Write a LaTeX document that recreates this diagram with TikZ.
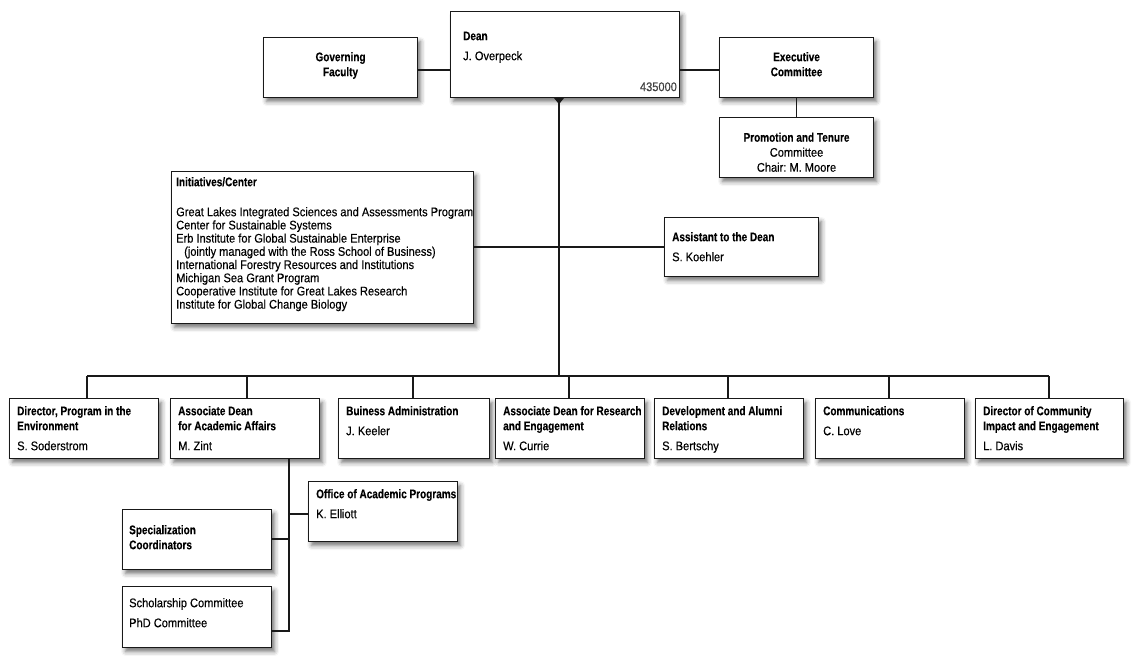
\documentclass[tikz,border=0pt]{standalone}
\usepackage{fontspec}
\setmainfont{Liberation Sans}[FakeStretch=0.885,FakeBold=0.25,BoldFeatures={FakeStretch=0.80,FakeBold=0.2}]
\usetikzlibrary{shadows.blur,calc}
\frenchspacing
\newcommand\T{\rule{0pt}{10pt}}
\newcommand\tb[1]{\textbf{#1}}
\newcommand\obox[5]{\node[box,minimum width={#4-#2},minimum height={#5-#3}] (#1) at (#2,#3) {};}
\begin{document}
\begin{tikzpicture}[x=1pt,y=-1pt,
  box/.style={draw=black!90,line width=1.1pt,fill=white,anchor=north west,inner sep=0pt,
    blur shadow={shadow xshift=3pt,shadow yshift=-4pt,shadow blur radius=4.5pt,shadow opacity=55}},
  txt/.style={align=left,inner sep=0pt,anchor=north west,font=\fontsize{12.5}{15}\selectfont},
  ctxt/.style={txt,align=center,anchor=north},
  link/.style={line width=1.4pt,black!90}]
\useasboundingbox (0,0) rectangle (1136,656);
% boxes
\obox{gov}{263}{37}{417}{97}
\obox{dean}{450}{11}{679}{97}
\obox{exec}{719}{37}{873}{97}
\obox{ptc}{719}{117}{873}{177}
\obox{init}{171}{171}{473}{323}
\obox{asst}{664}{217}{818}{276}
\obox{b1}{9}{398}{158}{458}
\obox{b2}{170}{398}{319}{458}
\obox{b3}{338}{398}{489}{458}
\obox{b4}{495}{398}{644}{458}
\obox{b5}{654}{398}{803}{458}
\obox{b6}{815}{398}{964}{458}
\obox{b7}{975}{398}{1123}{458}
\obox{office}{308}{481}{457}{541}
\obox{spec}{122}{509}{271}{569}
\obox{schol}{122}{586}{271}{647}
% texts
\node[txt] (deant) at ([xshift=13pt,yshift=-19pt]dean.north west) {\T\tb{Dean}\\[5pt]J. Overpeck};
\node[txt,anchor=base east,text=black!75] (deannum) at ([xshift=-3pt,yshift=7pt]dean.south east) {435000};
\node[ctxt] (govt) at ([yshift=-14pt]gov.north) {\T\tb{Governing}\\\tb{Faculty}};
\node[ctxt] (exect) at ([yshift=-14pt]exec.north) {\T\tb{Executive}\\\tb{Committee}};
\node[ctxt] (ptct) at ([yshift=-14.5pt]ptc.north) {\T\tb{Promotion and Tenure}\\Committee\\Chair: M. Moore};
\node[txt,font=\fontsize{12.5}{13.2}\selectfont] (initt) at ([xshift=5pt,yshift=-5pt]init.north west)
  {\T\tb{Initiatives/Center}\\[16.8pt]
   Great Lakes Integrated Sciences and Assessments Program\\
   Center for Sustainable Systems\\
   Erb Institute for Global Sustainable Enterprise\\
   \hspace{8pt}(jointly managed with the Ross School of Business)\\
   International Forestry Resources and Institutions\\
   Michigan Sea Grant Program\\
   Cooperative Institute for Great Lakes Research\\
   Institute for Global Change Biology};
\node[txt] (asstt) at ([xshift=8pt,yshift=-14pt]asst.north west) {\T\tb{Assistant to the Dean}\\[5pt]S. Koehler};
\node[txt] (b1t) at ([xshift=8pt,yshift=-7pt]b1.north west) {\T\tb{Director, Program in the}\\\tb{Environment}\\[5pt]S. Soderstrom};
\node[txt] (b2t) at ([xshift=8pt,yshift=-7pt]b2.north west) {\T\tb{Associate Dean}\\\tb{for Academic Affairs}\\[5pt]M. Zint};
\node[txt] (b3t) at ([xshift=8pt,yshift=-7pt]b3.north west) {\T\tb{Buiness Administration}\\[5pt]J. Keeler};
\node[txt] (b4t) at ([xshift=8pt,yshift=-7pt]b4.north west) {\T\tb{Associate Dean for Research}\\\tb{and Engagement}\\[5pt]W. Currie};
\node[txt] (b5t) at ([xshift=8pt,yshift=-7pt]b5.north west) {\T\tb{Development and Alumni}\\\tb{Relations}\\[5pt]S. Bertschy};
\node[txt] (b6t) at ([xshift=8pt,yshift=-7pt]b6.north west) {\T\tb{Communications}\\[5pt]C. Love};
\node[txt] (b7t) at ([xshift=8pt,yshift=-7pt]b7.north west) {\T\tb{Director of Community}\\\tb{Impact and Engagement}\\[5pt]L. Davis};
\node[txt] (officet) at ([xshift=8pt,yshift=-7pt]office.north west) {\T\tb{Office of Academic Programs}\\[5pt]K. Elliott};
\node[txt] (spect) at ([xshift=7pt,yshift=-15pt]spec.north west) {\T\tb{Specialization}\\\tb{Coordinators}};
\node[txt] (scholt) at ([xshift=7pt,yshift=-11pt]schol.north west) {\T Scholarship Committee\\[5pt]PhD Committee};
% coordinates
\coordinate (trunkx) at (559,0);
\coordinate (bus) at (559,376);
\coordinate (y70) at (0,70);
\coordinate (y247) at (0,247);
\coordinate (d1) at (87,376);
\coordinate (d2) at (247,376);
\coordinate (d3) at (413,376);
\coordinate (d4) at (569,376);
\coordinate (d5) at (728,376);
\coordinate (d6) at (889,376);
\coordinate (d7) at (1049,376);
\coordinate (z1) at (289,514);
\coordinate (z2) at (289,539);
\coordinate (z3) at (289,631);
% connectors
\draw[link] (gov.east |- y70) -- (dean.west |- y70);
\draw[link] (dean.east |- y70) -- (exec.west |- y70);
\draw[link] (exec.south) -- (ptc.north);
\draw[link] (dean.south -| trunkx) -- (bus);
\fill[black!90] ([xshift=-5pt]dean.south -| trunkx) -- ([xshift=5pt]dean.south -| trunkx) -- ([yshift=-6pt]dean.south -| trunkx) -- cycle;
\draw[link] (init.east |- y247) -- (asst.west |- y247);
\draw[link] (d1) -- (d7);
\foreach \d/\b in {d1/b1,d2/b2,d3/b3,d4/b4,d5/b5,d6/b6,d7/b7}
  \draw[link] (\d) -- (\d |- \b.north);
\draw[link] (b2.south -| z3) -- (z3) -- (schol.east |- z3);
\draw[link] (z1) -- (office.west |- z1);
\draw[link] (z2) -- (spec.east |- z2);
\end{tikzpicture}
\end{document}
